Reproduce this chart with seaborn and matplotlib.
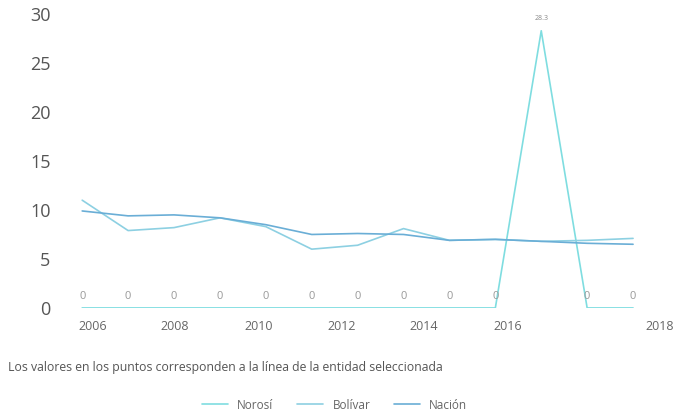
import matplotlib
matplotlib.use("Agg")
import matplotlib.pyplot as plt
import pandas as pd
import seaborn as sns

years = [2006, 2007, 2008, 2009, 2010, 2011, 2012, 2013, 2014, 2015, 2016, 2017, 2018]
norosi = [0, 0, 0, 0, 0, 0, 0, 0, 0, 0, 28.3, 0, 0]
bolivar = [11.0, 7.9, 8.2, 9.2, 8.3, 6.0, 6.4, 8.1, 6.9, 7.0, 6.8, 6.9, 7.1]
nacion = [9.9, 9.4, 9.5, 9.2, 8.5, 7.5, 7.6, 7.5, 6.9, 7.0, 6.8, 6.6, 6.5]
tick_labels = ["2006", "2008", "2010", "2012", "2014", "2016", "2018"]
series_names = ["Norosí", "Bolívar", "Nación"]
colors = ["#7fdde0", "#8dd0e2", "#6aaed6"]

df = pd.DataFrame({"Año": years, "Norosí": norosi, "Bolívar": bolivar, "Nación": nacion})
df_melt = df.melt(id_vars=["Año"], value_vars=series_names, var_name="Entidad", value_name="Valor")

sns.set_style("white")
plt.rcParams["font.family"] = ["Open Sans", "DejaVu Sans"]

fig = plt.figure(figsize=(6.76, 4.15), dpi=100)
ax = fig.add_axes([0.089, 0.258, 0.895, 0.708])
sns.lineplot(df_melt, x="Año", y="Valor", hue="Entidad", palette=colors,
             linewidth=1.2, ax=ax, legend=True)

# point labels for the selected entity (Norosí)
for x, v in zip(years, norosi):
    if v > 0:
        ax.annotate(f"{v:.1f}", (x, v), xytext=(0, 8), textcoords="offset points",
                    ha="center", fontsize=5, color="#888888")
    elif x != 2016:
        ax.annotate(f"{v:g}", (x, v), xytext=(0, 4), textcoords="offset points",
                    ha="center", va="bottom", fontsize=8, color="#999999")

ax.set_ylim(0, 30)
ax.set_xlim(2005.52, 2018.7)
ax.set_yticks([0, 5, 10, 15, 20, 25, 30])
ax.set_yticklabels(["0", "5", "10", "15", "20", "25", "30"], fontsize=13, color="#555555")
# labels as placed in the original (not aligned to data points)
ax.set_xticks([2006.24, 2008.02, 2009.85, 2011.65, 2013.43, 2015.26, 2018.57])
ax.set_xticklabels(tick_labels, fontsize=9, color="#666666")
ax.tick_params(axis="x", length=0, pad=9)
ax.tick_params(axis="y", length=0, pad=7)
ax.set_xlabel("")
ax.set_ylabel("")
sns.despine(ax=ax, left=True, bottom=True)

fig.text(0.012, 0.105, "Los valores en los puntos corresponden a la línea de la entidad seleccionada",
         fontsize=8.8, color="#555555")

handles, labels = ax.get_legend_handles_labels()
ax.legend_.remove()
fig.legend(handles, labels, loc="center", bbox_to_anchor=(0.495, 0.024), ncol=3, frameon=False,
           fontsize=8.5, labelcolor="#666666", handlelength=2.2, columnspacing=2.0)

fig.savefig("out.png", dpi=100)
